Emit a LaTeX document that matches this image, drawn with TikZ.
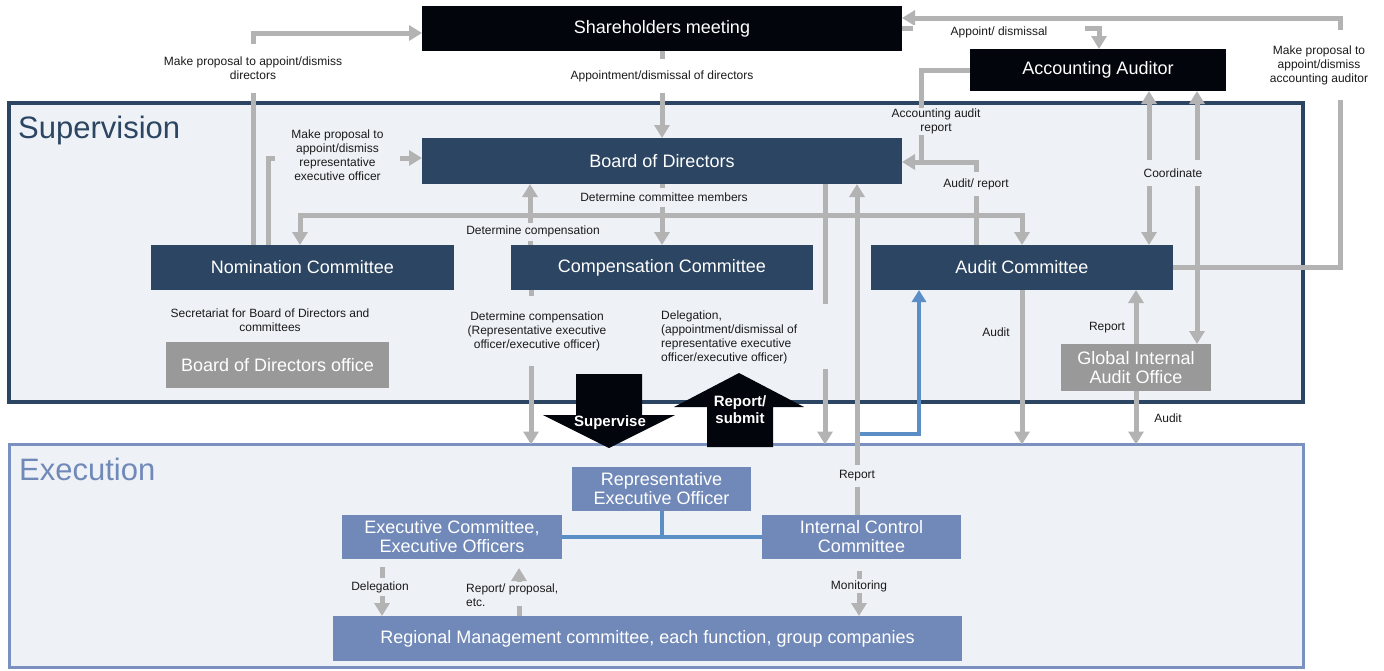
\documentclass[tikz,border=0pt]{standalone}
\usepackage{fontspec}
\setmainfont{Liberation Sans}
\usetikzlibrary{arrows.meta,calc}
\definecolor{navy}{HTML}{2C4562}
\definecolor{blackbox}{HTML}{03050C}
\definecolor{execb}{HTML}{7189B8}
\definecolor{execframe}{HTML}{7A90BE}
\definecolor{grayb}{HTML}{999999}
\definecolor{arrowg}{HTML}{B3B3B3}
\definecolor{bluec}{HTML}{5B8EC4}
\definecolor{bgc}{HTML}{EEF2F7}
\definecolor{labelc}{HTML}{1A1A1A}
\begin{document}
\begin{tikzpicture}[x=1pt,y=-1pt,
  box/.style={inner sep=0pt, outer sep=0pt, text=white, align=center, font=\fontsize{18}{19}\selectfont},
  frame/.style={inner sep=0pt, outer sep=0pt},
  con/.style={draw=arrowg, line width=5pt, -{Triangle[width=15pt,length=13pt]}},
  conline/.style={draw=arrowg, line width=5pt},
  contwo/.style={draw=arrowg, line width=5pt, {Triangle[width=15pt,length=13pt]}-{Triangle[width=15pt,length=13pt]}},
  bluecon/.style={draw=bluec, line width=4.5pt, -{Triangle[width=14pt,length=12pt]}},
  blueline/.style={draw=bluec, line width=4pt},
  lbl/.style={font=\fontsize{12}{14}\selectfont, text=labelc, align=center, inner sep=1pt},
  bigarrowtext/.style={font=\bfseries\fontsize{15}{17}\selectfont, text=white, align=center, inner sep=0pt}
]
\useasboundingbox (0,0) rectangle (1384,670);

% frames
\node[frame, draw=navy, line width=3.5pt, fill=bgc, minimum width=1294pt, minimum height=299pt] (supf) at (656,252.5) {};
\node[frame, draw=execframe, line width=3pt, fill=bgc, minimum width=1294pt, minimum height=223pt] (exef) at (656,556) {};
\node[anchor=base west, font=\fontsize{31}{31}\selectfont, text=navy, inner sep=0pt] (tsup) at (18,138) {Supervision};
\node[anchor=base west, font=\fontsize{31}{31}\selectfont, text=execb, inner sep=0pt] (texe) at (19,480) {Execution};

% boxes
\node[box, fill=blackbox, minimum width=480pt, minimum height=45pt] (sh) at (662,28.5) {Shareholders meeting};
\node[box, fill=blackbox, minimum width=256pt, minimum height=42pt] (aa) at (1098,70) {Accounting Auditor};
\node[box, fill=navy, minimum width=480pt, minimum height=46pt] (bod) at (662,161) {Board of Directors};
\node[box, fill=navy, minimum width=303pt, minimum height=45pt] (nom) at (302.5,267.5) {Nomination Committee};
\node[box, fill=navy, minimum width=302pt, minimum height=45pt] (comp) at (662,267.5) {Compensation Committee};
\node[box, fill=navy, minimum width=302pt, minimum height=45pt] (aud) at (1022,267.5) {Audit Committee};
\node[box, fill=grayb, minimum width=223pt, minimum height=46pt] (bodo) at (277.5,365) {Board of Directors office};
\node[box, fill=grayb, minimum width=150pt, minimum height=47pt] (giao) at (1136,367.5) {Global Internal\\Audit Office};
\node[box, fill=execb, minimum width=179pt, minimum height=44pt] (reo) at (661.5,489) {Representative\\Executive Officer};
\node[box, fill=execb, minimum width=220pt, minimum height=44pt] (exc) at (452,537) {Executive Committee,\\Executive Officers};
\node[box, fill=execb, minimum width=199pt, minimum height=44pt] (icc) at (861.5,537) {Internal Control\\Committee};
\node[box, fill=execb, minimum width=629pt, minimum height=45pt] (reg) at (647.5,638.5) {Regional Management committee, each function, group companies};

% connectors (supervision)
\draw[con] (253,0 |- nom.north) -- (253,33) -- (253,33 -| sh.west);
\draw[con] (268,0 |- nom.north) -- (268,158) -- (268,158 -| bod.west);
\draw[con] (sh.south) -- (bod.north);
\draw[con] (bod.south) -- (comp.north);
\draw[contwo] (nom.north -| 300,0) -- (300,215) -- (1022,215) -- (aud.north);
\draw[con] (530,0 |- comp.north) -- (530,0 |- bod.south);
\draw[con] (531,0 |- comp.south) -- (531,0 |- exef.north);
\draw[conline] (825,0 |- bod.south) -- (825,304);
\coordinate (dlg) at (825,369);
\draw[con] (dlg) -- (dlg |- exef.north);
\draw[con] (857,0 |- icc.north) -- (857,0 |- bod.south);
\coordinate (bstart) at (859.5,434);
\draw[bluecon] (bstart) -- (919,434) -- (919,0 |- aud.south);
\draw[con] (976,0 |- aud.north) -- (976,162) -- (976,162 -| bod.east);
\draw[conline] (aa.west) -- (921,70) -- (921,164);
\draw[con] (aud.east) -- (1340,267.5) -- (1340,18) -- (1340,18 -| sh.east);
\draw[con] (sh.east) -- (1099,28.5) -- (1099,0 |- aa.north);
\draw[contwo] (1149,0 |- aa.south) -- (1149,0 |- aud.north);
\draw[contwo] (1197,0 |- aa.south) -- (1197,0 |- giao.north);
\draw[con] (giao.north) -- (giao.north |- aud.south);
\draw[con] (giao.south) -- (giao.south |- exef.north);
\draw[con] (aud.south) -- (aud.south |- exef.north);

% big block arrows
\fill[blackbox] (576,374) -- (642,374) -- (642,415) -- (675,415) -- (609,448) -- (543,415) -- (576,415) -- cycle;
\node[bigarrowtext] (tsv) at (610,423) {Supervise};
\fill[blackbox] (707,447) -- (773,447) -- (773,407) -- (804,407) -- (739,373) -- (674,407) -- (707,407) -- cycle;
\node[bigarrowtext] (trs) at (740,410) {Report/\\submit};

% execution connectors
\draw[blueline] (reo.south) -- (reo.south |- exc.east);
\draw[blueline] (exc.east) -- (icc.west);
\draw[con, shorten <=8pt] (382,0 |- exc.south) -- (382,0 |- reg.north);
\draw[conline] (519,0 |- reg.north) -- (519,606);
\draw[con, shorten >=9pt] (519,582) -- (519,0 |- exc.south);
\draw[con, shorten <=12pt] (859,0 |- icc.south) -- (859,0 |- reg.north);

% labels
\node[lbl, fill=white, minimum height=49pt] (l1) at (253,68.5) {Make proposal to appoint/dismiss\\directors};
\node[lbl, fill=bgc, minimum width=125pt] (l2) at (337.5,155.5) {Make proposal to\\appoint/dismiss\\representative\\executive officer};
\node[lbl, fill=white, minimum height=34pt] (l3) at (662,76) {Appointment/dismissal of directors};
\node[lbl, fill=bgc, minimum height=19pt] (l4) at (664,197.5) {Determine committee members};
\node[lbl, fill=bgc, minimum height=18pt] (l6) at (533,231.5) {Determine compensation};
\node[lbl, fill=bgc, minimum height=70pt] (l7) at (537,331) {Determine compensation\\(Representative executive\\officer/executive officer)};
\node[lbl, align=left, anchor=west] (l8) at (660,337) {Delegation,\\(appointment/dismissal of\\representative executive\\officer/executive officer)};
\node[lbl, fill=bgc, minimum height=22pt] (l9) at (857,476) {Report};
\node[lbl, fill=bgc, minimum height=24pt] (l11) at (976,184) {Audit/ report};
\node[lbl, fill=bgc, minimum height=27pt, inner sep=0.5pt] (l12) at (936,121.5) {Accounting audit\\report};
\node[lbl, fill=white, minimum height=70pt] (l13) at (1319,65) {Make proposal to\\appoint/dismiss\\accounting auditor};
\node[lbl, fill=white, minimum width=172pt] (l14) at (999,32) {Appoint/ dismissal};
\node[lbl, fill=bgc, minimum width=72pt, minimum height=26pt] (l15) at (1173,173) {Coordinate};
\node[lbl] (l17) at (1107,328) {Report};
\node[lbl] (l18) at (1168,418) {Audit};
\node[lbl] (l19) at (996,332) {Audit};
\node[lbl] (l20) at (270,320) {Secretariat for Board of Directors and\\committees};
\node[lbl, fill=bgc, minimum height=18pt] (l21) at (380,587) {Delegation};
\node[lbl, align=left, anchor=west] (l22) at (465,595) {Report/ proposal,\\etc.};
\node[lbl, fill=bgc, minimum height=14pt] (l23) at (859,586) {Monitoring};
\end{tikzpicture}
\end{document}
